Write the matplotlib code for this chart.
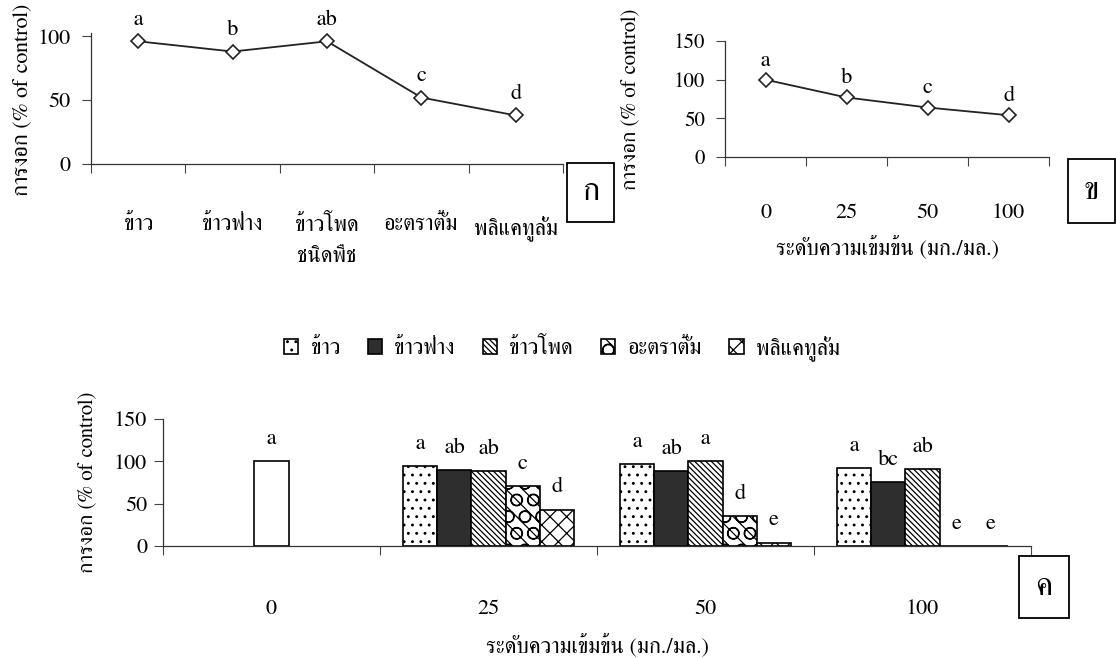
import matplotlib
matplotlib.use("Agg")
import matplotlib.pyplot as plt
from matplotlib.patches import Rectangle
import numpy as np

plt.rcParams['font.family'] = ['FreeSerif', 'Noto Serif Thai', 'DejaVu Sans']
plt.rcParams['hatch.linewidth'] = 0.9

# ---- data ----
crops = ['ข้าว', 'ข้าวฟ่าง', 'ข้าวโพด', 'อะตราตั้ม', 'พลิแคทูลั่ม']
crop_germ = [96, 88, 96, 52, 38]
crop_letters = ['a', 'b', 'ab', 'c', 'd']

conc = ['0', '25', '50', '100']
conc_germ = [100, 77, 64, 54]
conc_letters = ['a', 'b', 'c', 'd']

control_germ = 100
control_letter = 'a'
rice = [94, 97, 92]
sorghum = [90, 88, 76]
corn = [88, 100, 91]
atratum = [71, 35, 0]
plicatulum = [43, 4, 0]
rice_l = ['a', 'a', 'a']
sorghum_l = ['ab', 'ab', 'bc']
corn_l = ['ab', 'a', 'ab']
atratum_l = ['c', 'd', 'e']
plicatulum_l = ['d', 'e', 'e']

ylab = 'การงอก (% of control)'
xlab_conc = 'ระดับความเข้มข้น (มก./มล.)'

W, H = 1116, 658
fig = plt.figure(figsize=(W / 100, H / 100), dpi=100)


def px_axes(x0, x1, y_top, y_bot):
    return fig.add_axes([x0 / W, 1 - y_bot / H, (x1 - x0) / W, (y_bot - y_top) / H])


def style(ax):
    for s in ['top', 'right']:
        ax.spines[s].set_visible(False)
    for s in ['left', 'bottom']:
        ax.spines[s].set_linewidth(0.9)
        ax.spines[s].set_color('#333333')
    ax.tick_params(which='major', direction='out', length=6.5, width=0.8, color='#444444')
    ax.tick_params(axis='x', which='major', labelbottom=False)
    ax.tick_params(axis='x', which='minor', length=0)


def fig_box(x0, x1, y0, y1, txt):
    fig.add_artist(Rectangle((x0 / W, 1 - y1 / H), (x1 - x0) / W, (y1 - y0) / H,
                             transform=fig.transFigure, fill=False, lw=1.3, ec='black'))
    fig.text((x0 + x1) / 2 / W, 1 - (y0 + y1) / 2 / H, txt, ha='center', va='center',
             fontsize=23)


# ---- panel ก ----
ax1 = px_axes(91, 563, 33, 164)
x1 = np.arange(len(crops))
ax1.plot(x1, crop_germ, color='#222222', lw=1.3, marker='D', ms=7,
         mfc='white', mec='#222222', mew=1.2)
for xi, v, t in zip(x1, crop_germ, crop_letters):
    ax1.annotate(t, (xi, v), xytext=(0, 21), textcoords='offset pixels',
                 ha='center', va='center', fontsize=16)
ax1.set_xlim(-0.5, len(crops) - 0.5)
ax1.set_ylim(0, 102.5)
ax1.set_yticks([0, 50, 100])
ax1.set_xticks(np.arange(len(crops) + 1) - 0.5)
ax1.set_xticks(x1, crops, minor=True)
style(ax1)
ax1.tick_params(axis='y', labelsize=16, pad=8)
ax1.tick_params(axis='x', which='minor', labelsize=16, pad=37)
fig.text(327 / W, 1 - 257 / H, 'ชนิดพืช', ha='center', va='center', fontsize=16)
fig.text(22 / W, 1 - 100 / H, ylab, rotation=90, ha='center', va='center', fontsize=16)
fig_box(567, 614, 163, 222, 'ก')

# ---- panel ข ----
ax2 = px_axes(725, 1049, 41, 157)
x2 = np.arange(len(conc))
ax2.plot(x2, conc_germ, color='#222222', lw=1.3, marker='D', ms=7,
         mfc='white', mec='#222222', mew=1.2)
for xi, v, t in zip(x2, conc_germ, conc_letters):
    ax2.annotate(t, (xi, v), xytext=(0, 19), textcoords='offset pixels',
                 ha='center', va='center', fontsize=16)
ax2.set_xlim(-0.5, len(conc) - 0.5)
ax2.set_ylim(0, 150)
ax2.set_yticks([0, 50, 100, 150])
ax2.set_xticks(np.arange(len(conc) + 1) - 0.5)
ax2.set_xticks(x2, conc, minor=True)
style(ax2)
ax2.tick_params(axis='y', labelsize=15, pad=8)
ax2.tick_params(axis='x', which='minor', labelsize=16, pad=33)
fig.text(888 / W, 1 - 247 / H, xlab_conc, ha='center', va='center', fontsize=16)
fig.text(630 / W, 1 - 99 / H, ylab, rotation=90, ha='center', va='center', fontsize=15)
fig_box(1068, 1115, 159, 223, 'ข')

# ---- panel ค ----
ax3 = px_axes(163, 1031, 419, 546)
w = 0.157
series = [rice, sorghum, corn, atratum, plicatulum]
letters = [rice_l, sorghum_l, corn_l, atratum_l, plicatulum_l]
faces = ['white', '#2e2e2e', 'white', 'white', 'white']
hatches = ['..', None, '\\\\\\\\\\\\', 'O\\\\', 'xx']
groups = np.arange(1, len(conc))
ax3.bar([0], [control_germ], width=w, color='white', edgecolor='black', lw=1.2)
ax3.annotate(control_letter, (0, control_germ), xytext=(0, 22), textcoords='offset pixels',
             ha='center', va='center', fontsize=16)
handles = []
for i, (vals, labs) in enumerate(zip(series, letters)):
    xs = groups + (i - 2) * w
    b = ax3.bar(xs, vals, width=w, color=faces[i], edgecolor='black', lw=1.2,
                hatch=hatches[i], label=crops[i])
    handles.append(b)
    for xi, v, t in zip(xs, vals, labs):
        ax3.annotate(t, (xi, v), xytext=(0, 22), textcoords='offset pixels',
                     ha='center', va='center', fontsize=16)
ax3.set_xlim(-0.5, len(conc) - 0.5)
ax3.set_ylim(0, 150)
ax3.set_yticks([0, 50, 100, 150])
ax3.set_xticks(np.arange(len(conc) + 1) - 0.5)
ax3.set_xticks(np.arange(len(conc)), conc, minor=True)
style(ax3)
ax3.tick_params(axis='y', labelsize=16, pad=5)
ax3.tick_params(axis='x', which='minor', labelsize=16, pad=38)
fig.text(597 / W, 1 - 645 / H, xlab_conc, ha='center', va='center', fontsize=16)
fig.text(87 / W, 1 - 482 / H, ylab, rotation=90, ha='center', va='center', fontsize=15)
fig_box(1019, 1069, 556, 618, 'ค')

fig.legend(handles=handles, labels=crops, loc='center', bbox_to_anchor=(562 / W, 1 - 348 / H),
           ncol=5, frameon=False, fontsize=16, handlelength=0.65, handleheight=0.65,
           handletextpad=0.55, columnspacing=1.25)

fig.savefig('out.png', dpi=100)
